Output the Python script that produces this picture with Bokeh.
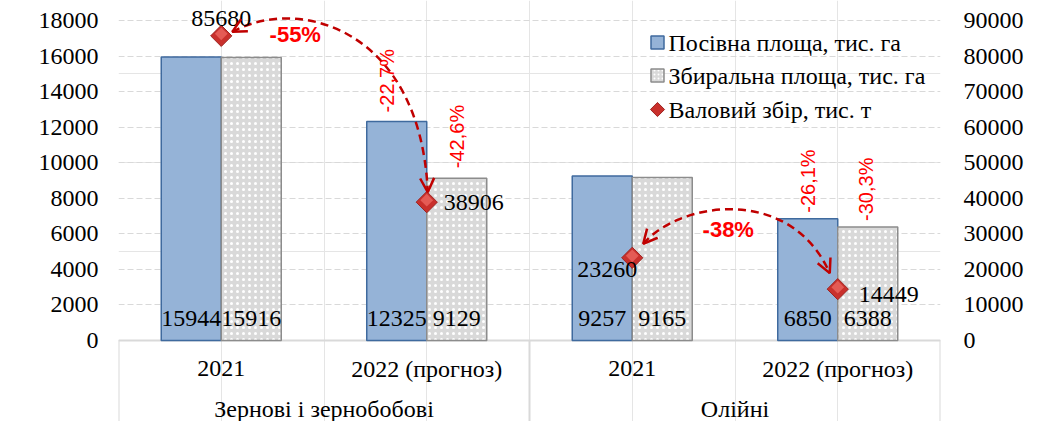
import numpy as np
from bokeh.plotting import figure
from bokeh.models import (Range1d, LinearAxis, FixedTicker, Label, Arrow, OpenHead,
                          Grid)
from bokeh.core.properties import value
from bokeh.embed import file_html
from bokeh.resources import INLINE

# ---------------- data ----------------
groups = ["Зернові і зернобобові", "Олійні"]
years = ["2021", "2022 (прогноз)", "2021", "2022 (прогноз)"]
sown_area = [15944, 12325, 9257, 6850]        # Посівна площа, тис. га
harvest_area = [15916, 9129, 9165, 6388]      # Збиральна площа, тис. га
gross_yield = [85680, 38906, 23260, 14449]    # Валовий збір, тис. т
sown_change = ["-22,7%", "-26,1%"]            # 2022 vs 2021
harvest_change = ["-42,6%", "-30,3%"]
yield_change = ["-55%", "-38%"]
left_ticks = list(range(0, 18001, 2000))
right_ticks = list(range(0, 90001, 10000))
legend_labels = ["Посівна площа, тис. га", "Збиральна площа, тис. га", "Валовий збір, тис. т"]

# ---------------- layout ----------------
W, H = 1059, 421
BL, BR = 118, 119
FRAME_W = W - BL - BR            # 822
PX_X = 4 / FRAME_W
PX_YL = 18000 / 320
PX_YR = 90000 / 320
ZERO_C = 340                     # canvas y of value 0
y_start = -(H - ZERO_C) * PX_YL
y_end = ZERO_C * PX_YL

SERIF = value("Liberation Serif")
FS = value("24px")
RED = "#FF0000"
DARKRED = "#C00000"

xc = np.arange(4) + 0.5
off = 0.146
bw = 0.292

p = figure(width=W, height=H, output_backend="svg", toolbar_location=None,
           title=None, x_axis_location=None, y_axis_location=None,
           x_range=Range1d(0, 4), y_range=Range1d(y_start, y_end),
           min_border_left=BL, min_border_right=BR, min_border_top=0, min_border_bottom=0,
           outline_line_color=None, background_fill_color="white", border_fill_color="white")
p.extra_y_ranges = {"right": Range1d(y_start * 5, y_end * 5)}

def style_axis(ax, standoff):
    ax.axis_line_color = None
    ax.major_tick_line_color = None
    ax.minor_tick_line_color = None
    ax.major_tick_out = 0
    ax.major_tick_in = 0
    ax.major_label_standoff = standoff
    ax.major_label_text_font = "Liberation Serif"
    ax.major_label_text_font_size = "24px"
    ax.major_label_text_color = "black"

left_axis = LinearAxis(ticker=FixedTicker(ticks=left_ticks))
style_axis(left_axis, 20)
p.add_layout(left_axis, "left")
right_axis = LinearAxis(ticker=FixedTicker(ticks=right_ticks), y_range_name="right")
style_axis(right_axis, 23)
p.add_layout(right_axis, "right")

p.add_layout(Grid(dimension=1, ticker=left_axis.ticker, grid_line_color="#D9D9D9",
                  grid_line_dash="6 3", grid_line_width=1))

# category box
p.segment(x0=[0, 0, 2, 4], y0=[0, 0, 0, 0], x1=[4, 0, 2, 4], y1=[0, y_start, y_start, y_start],
          line_color="#D9D9D9", line_width=2)

p.vbar(x=xc - off, top=sown_area, bottom=0, width=bw, fill_color="#95B3D7",
       line_color="#3F6A9E", line_width=1.5)
p.vbar(x=xc + off, top=harvest_area, bottom=0, width=bw, fill_color="#D9D9D9",
       hatch_pattern="dot", hatch_color="white", hatch_scale=6, hatch_weight=1.5,
       line_color="#8C8C8C", line_width=1.5)

# bar value labels
p.text(x=list(xc - off) + list(xc + off), y=[22 * PX_YL] * 8,
       text=[str(v) for v in sown_area] + [str(v) for v in harvest_area],
       text_font=SERIF, text_font_size=FS, text_align="center", text_baseline="middle",
       text_color="black")

# arcs (behind diamonds)
def pt(i, dx, dy):
    return xc[i] + dx * PX_X, gross_yield[i] - dy * PX_YR

def arc(a, b, c, d):
    p.bezier(x0=[a[0]], y0=[a[1]], cx0=[b[0]], cy0=[b[1]], cx1=[c[0]], cy1=[c[1]],
             x1=[d[0]], y1=[d[1]], y_range_name="right", line_color=DARKRED,
             line_width=2.5, line_dash="8 5")
    for tip, ctrl in ((a, b), (d, c)):
        eps = 0.03
        p.add_layout(Arrow(end=OpenHead(size=14, line_color=DARKRED, line_width=2.5),
                           x_start=tip[0] + eps * (ctrl[0] - tip[0]),
                           y_start=tip[1] + eps * (ctrl[1] - tip[1]),
                           x_end=tip[0], y_end=tip[1], line_alpha=0,
                           y_range_name="right"))

arc(pt(0, 11, -4), pt(0, 79, -41), pt(1, -6, -172), pt(1, 1, -10))
arc(pt(2, 11, -14), pt(2, 48, -57), pt(3, -47, -104), pt(3, -8, -16))

# diamonds (base + highlight)
p.scatter(x=xc, y=gross_yield, y_range_name="right", marker="square", angle=np.pi / 4,
          size=15, fill_color="#C9302C", line_color="#9E2421", line_width=1)
p.scatter(x=xc, y=[g + 2 * PX_YR for g in gross_yield], y_range_name="right",
          marker="square", angle=np.pi / 4, size=9, fill_color="#EC6A63",
          fill_alpha=0.75, line_color=None)

# diamond labels
lab_dx = [0, 17, 5, 21]
lab_dy = [-17, 0, 12, 5]
lab_align = ["center", "left", "right", "left"]
for i in range(4):
    p.text(x=[xc[i] + lab_dx[i] * PX_X], y=[gross_yield[i] - lab_dy[i] * PX_YR],
           text=[str(gross_yield[i])], y_range_name="right", text_font=SERIF,
           text_font_size=FS, text_align=lab_align[i], text_baseline="middle",
           text_color="black")

# percentage labels (rotated) above 2022 bars
rot = [(1, -off, sown_area[1], sown_change[0], -10, 9),
       (1, off, harvest_area[1], harvest_change[0], 0, 10),
       (3, -off, sown_area[3], sown_change[1], 0, 6),
       (3, off, harvest_area[3], harvest_change[1], -2, 6)]
for i, o, top, txt, dx, dy in rot:
    p.add_layout(Label(x=xc[i] + o + dx * PX_X, y=top + dy * PX_YL, text=txt, angle=np.pi / 2,
                       text_align="left", text_baseline="middle", text_font="Liberation Sans",
                       text_font_size="20px", text_color=RED))

p.add_layout(Label(x=xc[0] + 74 * PX_X, y=gross_yield[0] + 1 * PX_YR, y_range_name="right",
                   text=yield_change[0], text_align="center", text_baseline="middle",
                   text_font="Liberation Sans", text_font_size="22px", text_font_style="bold",
                   text_color=RED))
p.add_layout(Label(x=xc[2] + 96 * PX_X, y=gross_yield[2] + 28 * PX_YR, y_range_name="right",
                   text=yield_change[1], text_align="center", text_baseline="middle",
                   text_font="Liberation Sans", text_font_size="22px", text_font_style="bold",
                   text_color=RED))

# category labels
p.text(x=xc, y=[-28 * PX_YL] * 4, text=years, text_font=SERIF, text_font_size=FS,
       text_align="center", text_baseline="middle", text_color="black")
p.text(x=[1, 3], y=[-68 * PX_YL] * 2, text=groups, text_font=SERIF, text_font_size=FS,
       text_align="center", text_baseline="middle", text_color="black")

# axis titles
p.add_layout(Label(x=-100 * PX_X, y=159 * PX_YL, text="Тис. га", angle=np.pi / 2,
                   text_align="center", text_baseline="middle", text_font="Liberation Serif",
                   text_font_size="24px", text_color="black"))
p.add_layout(Label(x=4 + 105 * PX_X, y=157 * PX_YL, text="Тис. т", angle=np.pi / 2,
                   text_align="center", text_baseline="middle", text_font="Liberation Serif",
                   text_font_size="24px", text_color="black"))

# legend (manual)
rows = [298, 265, 231]
lx = (657 - 118) * PX_X
p.scatter(x=[lx], y=[rows[0] * PX_YL], marker="square", size=13, fill_color="#95B3D7",
          line_color="#3F6A9E", line_width=1.5)
p.scatter(x=[lx], y=[rows[1] * PX_YL], marker="square", size=13, fill_color="#D9D9D9",
          hatch_pattern="dot", hatch_color="white", hatch_scale=4, hatch_weight=1,
          line_color="#8C8C8C", line_width=1.5)
p.scatter(x=[lx], y=[rows[2] * PX_YL], marker="square", angle=np.pi / 4, size=10,
          fill_color="#C9302C", line_color="#9E2421", line_width=1)
p.text(x=[lx + 11 * PX_X] * 3, y=[r * PX_YL for r in rows], text=legend_labels,
       text_font=SERIF, text_font_size=FS, text_align="left", text_baseline="middle",
       text_color="black")

open("out.html", "w").write(file_html(p, INLINE))
